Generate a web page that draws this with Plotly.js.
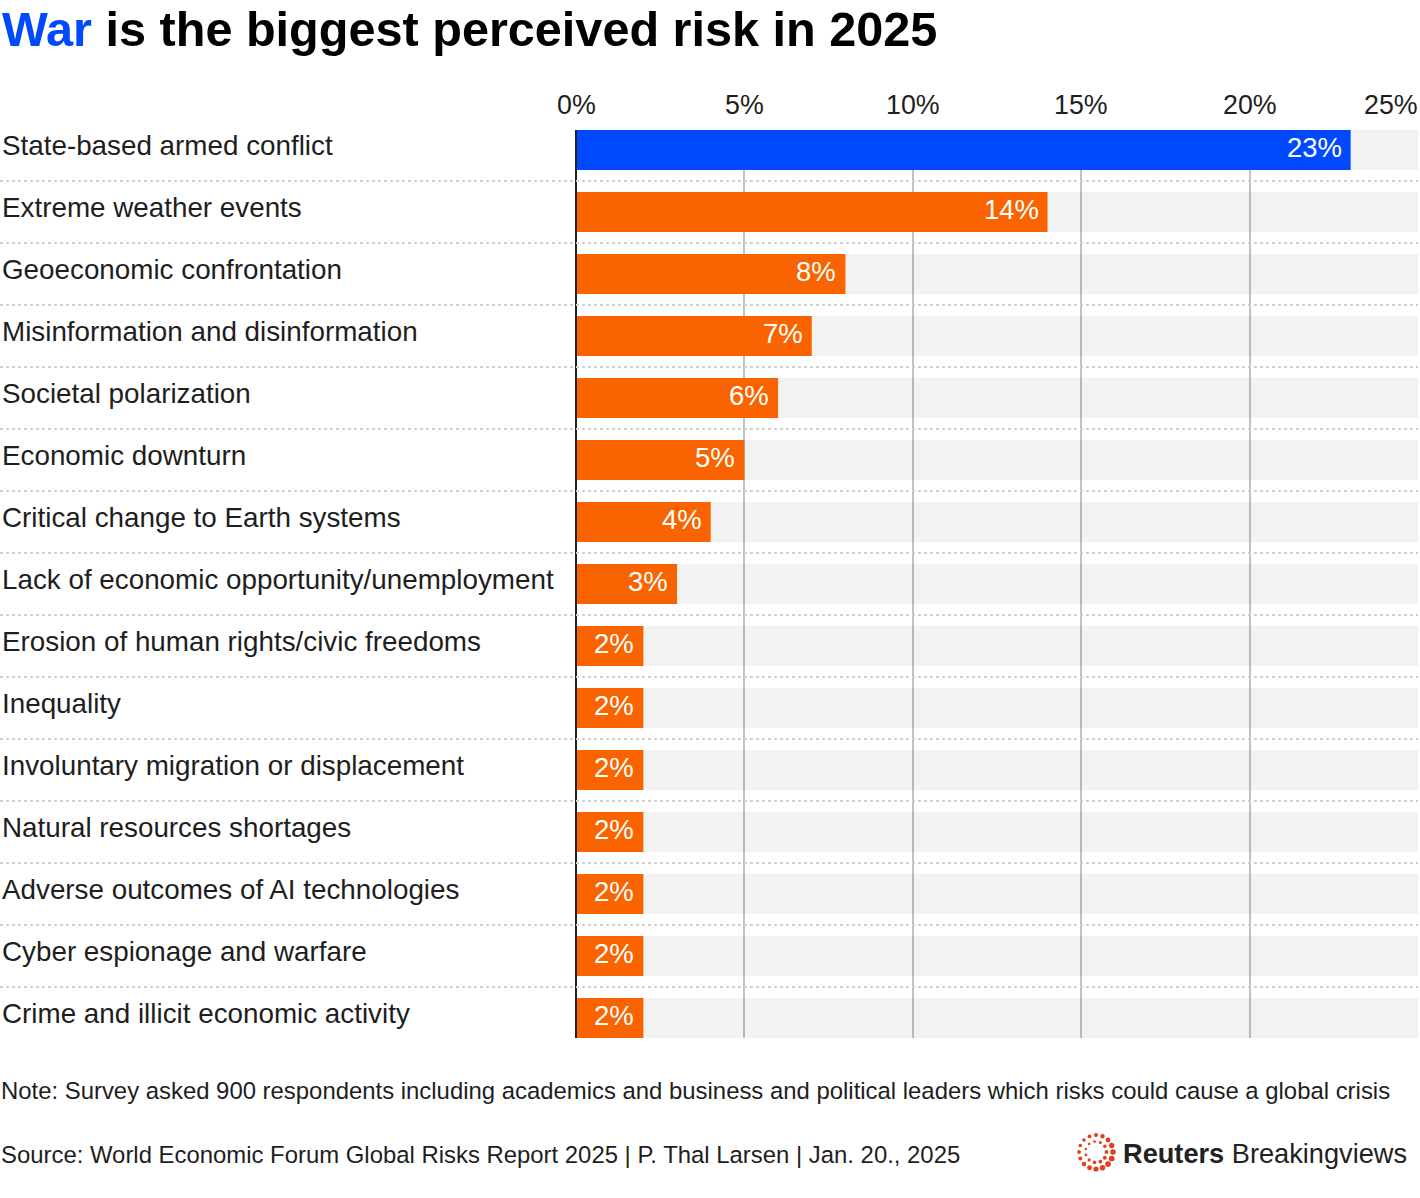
<!DOCTYPE html>
<html>
<head>
<meta charset="utf-8">
<script src="https://cdn.plot.ly/plotly-3.0.1.min.js"></script>
<style>html,body{margin:0;padding:0;background:#fff;}#chart{width:1420px;height:1198px;}</style>
</head>
<body>
<div id="chart"></div>
<script>
const categories = [
  "State-based armed conflict",
  "Extreme weather events",
  "Geoeconomic confrontation",
  "Misinformation and disinformation",
  "Societal polarization",
  "Economic downturn",
  "Critical change to Earth systems",
  "Lack of economic opportunity/unemployment",
  "Erosion of human rights/civic freedoms",
  "Inequality",
  "Involuntary migration or displacement",
  "Natural resources shortages",
  "Adverse outcomes of AI technologies",
  "Cyber espionage and warfare",
  "Crime and illicit economic activity"
];
const values = [23, 14, 8, 7, 6, 5, 4, 3, 2, 2, 2, 2, 2, 2, 2];
const valueLabels = ["23%", "14%", "8%", "7%", "6%", "5%", "4%", "3%", "2%", "2%", "2%", "2%", "2%", "2%", "2%"];
const tickVals = [0, 5, 10, 15, 20, 25];
const tickText = ["0%", "5%", "10%", "15%", "20%", "25%"];
const titleHighlight = "War";
const titleRest = " is the biggest perceived risk in 2025";
const noteText = "Note: Survey asked 900 respondents including academics and business and political leaders which risks could cause a global crisis";
const sourceText = "Source: World Economic Forum Global Risks Report 2025 | P. Thal Larsen | Jan. 20., 2025";

// ---- styling / layout constants ----
const W = 1420, H = 1198;
const L = 576, R = 2, T = 130, B = 160;
const PW = W - L - R, PH = H - T - B;
const BLUE = "#0049ff", ORANGE = "#f96400", BG = "rgba(0,0,0,0.05)";
const FONT = "Liberation Sans, Arial, Helvetica, sans-serif";
const TXT = "#1e1e1e";
const barW = 0.645;
const axisMax = tickVals[tickVals.length - 1];
const px2x = px => (px - L) / PW;
const px2y = py => (H - B - py) / PH;

const barColors = values.map((v, i) => i === 0 ? BLUE : ORANGE);

const traces = [
  {
    type: "bar", orientation: "h", y: categories,
    x: categories.map(() => axisMax),
    marker: {color: BG}, width: barW, hoverinfo: "skip", showlegend: false
  },
  {
    type: "bar", orientation: "h", y: categories, x: values,
    marker: {color: barColors}, width: barW, showlegend: false,
    hovertemplate: "%{y}: %{x}%<extra></extra>"
  }
];

const annotations = [];
// title
annotations.push({
  text: '<b><span style="color:' + BLUE + '">' + titleHighlight + '</span>' + titleRest + '</b>',
  xref: "paper", x: px2x(0), xanchor: "left",
  yref: "paper", y: px2y(0), yanchor: "top",
  showarrow: false, font: {family: FONT, size: 48.6, color: "#000"}
});
// category labels
categories.forEach((c, i) => {
  annotations.push({
    text: c, xref: "paper", x: px2x(0), xanchor: "left",
    yref: "y", y: c, yanchor: "middle", yshift: 5,
    showarrow: false, font: {family: FONT, size: 27.8, color: TXT}
  });
});
// value labels
values.forEach((v, i) => {
  annotations.push({
    text: valueLabels[i], xref: "x", x: v, xanchor: "right", xshift: -7,
    yref: "y", y: categories[i], yanchor: "middle", yshift: 3,
    showarrow: false, font: {family: FONT, size: 27.5, color: "#ffffff"}
  });
});
// tick labels
tickVals.forEach((t, i) => {
  const last = i === tickVals.length - 1;
  annotations.push({
    text: tickText[i], xref: "x", x: t, xanchor: last ? "right" : "center",
    xshift: last ? 2 : 0,
    yref: "paper", y: 1, yanchor: "middle", yshift: 25,
    showarrow: false, font: {family: FONT, size: 26.8, color: TXT}
  });
});
// note & source
annotations.push({
  text: noteText, xref: "paper", x: px2x(-1), xanchor: "left",
  yref: "paper", y: px2y(1090), yanchor: "middle",
  showarrow: false, font: {family: FONT, size: 23.9, color: TXT}
});
annotations.push({
  text: sourceText, xref: "paper", x: px2x(-1), xanchor: "left",
  yref: "paper", y: px2y(1154), yanchor: "middle",
  showarrow: false, font: {family: FONT, size: 23.9, color: TXT}
});
// logo text
annotations.push({
  text: "<b>Reuters</b> Breakingviews", xref: "paper", x: px2x(1121), xanchor: "left",
  yref: "paper", y: px2y(1153), yanchor: "middle",
  showarrow: false, font: {family: FONT, size: 27.2, color: "#222"}
});

const shapes = [];
// dotted separators
for (let i = 0; i < categories.length - 1; i++) {
  shapes.push({
    type: "line", xref: "paper", x0: px2x(0), x1: 1,
    yref: "y", y0: i + 0.5, y1: i + 0.5,
    line: {color: "#cfcfcf", width: 2, dash: "dot"}, layer: "above"
  });
}
// logo dots (decorative)
const lcx = 1096, lcy = 1152;
const rings = [{r: 17, n: 16, s: 2.6}, {r: 10.5, n: 11, s: 1.8}];
rings.forEach(rg => {
  for (let k = 0; k < rg.n; k++) {
    const a = 2 * Math.PI * k / rg.n;
    const s = rg.s * (0.7 + 0.4 * (0.5 + 0.5 * Math.sin(a * 1.0 + 1)));
    const cx = lcx + rg.r * Math.cos(a), cy = lcy + rg.r * Math.sin(a);
    shapes.push({
      type: "circle", xref: "paper", yref: "paper",
      x0: px2x(cx - s), x1: px2x(cx + s), y0: px2y(cy + s), y1: px2y(cy - s),
      fillcolor: "#e2401c", line: {width: 0}, layer: "above"
    });
  }
});

const layout = {
  width: W, height: H,
  margin: {l: L, r: R, t: T, b: B, pad: 0},
  paper_bgcolor: "#fff", plot_bgcolor: "#fff",
  barmode: "overlay",
  font: {family: FONT, color: TXT},
  xaxis: {
    range: [0, axisMax], side: "top", tickvals: tickVals, showticklabels: false,
    ticks: "", showgrid: true, gridcolor: "#c2c2c2", gridwidth: 2,
    zeroline: true, zerolinecolor: "#222", zerolinewidth: 2, zerolinelayer: "above traces",
    showline: false, fixedrange: true
  },
  yaxis: {
    type: "category", autorange: false,
    range: [categories.length - 1 + barW / 2, -barW / 2],
    showticklabels: false, showgrid: false, zeroline: false, ticks: "", fixedrange: true
  },
  annotations: annotations,
  shapes: shapes,
  showlegend: false
};

Plotly.newPlot("chart", traces, layout, {displayModeBar: false, staticPlot: true});
</script>
</body>
</html>
